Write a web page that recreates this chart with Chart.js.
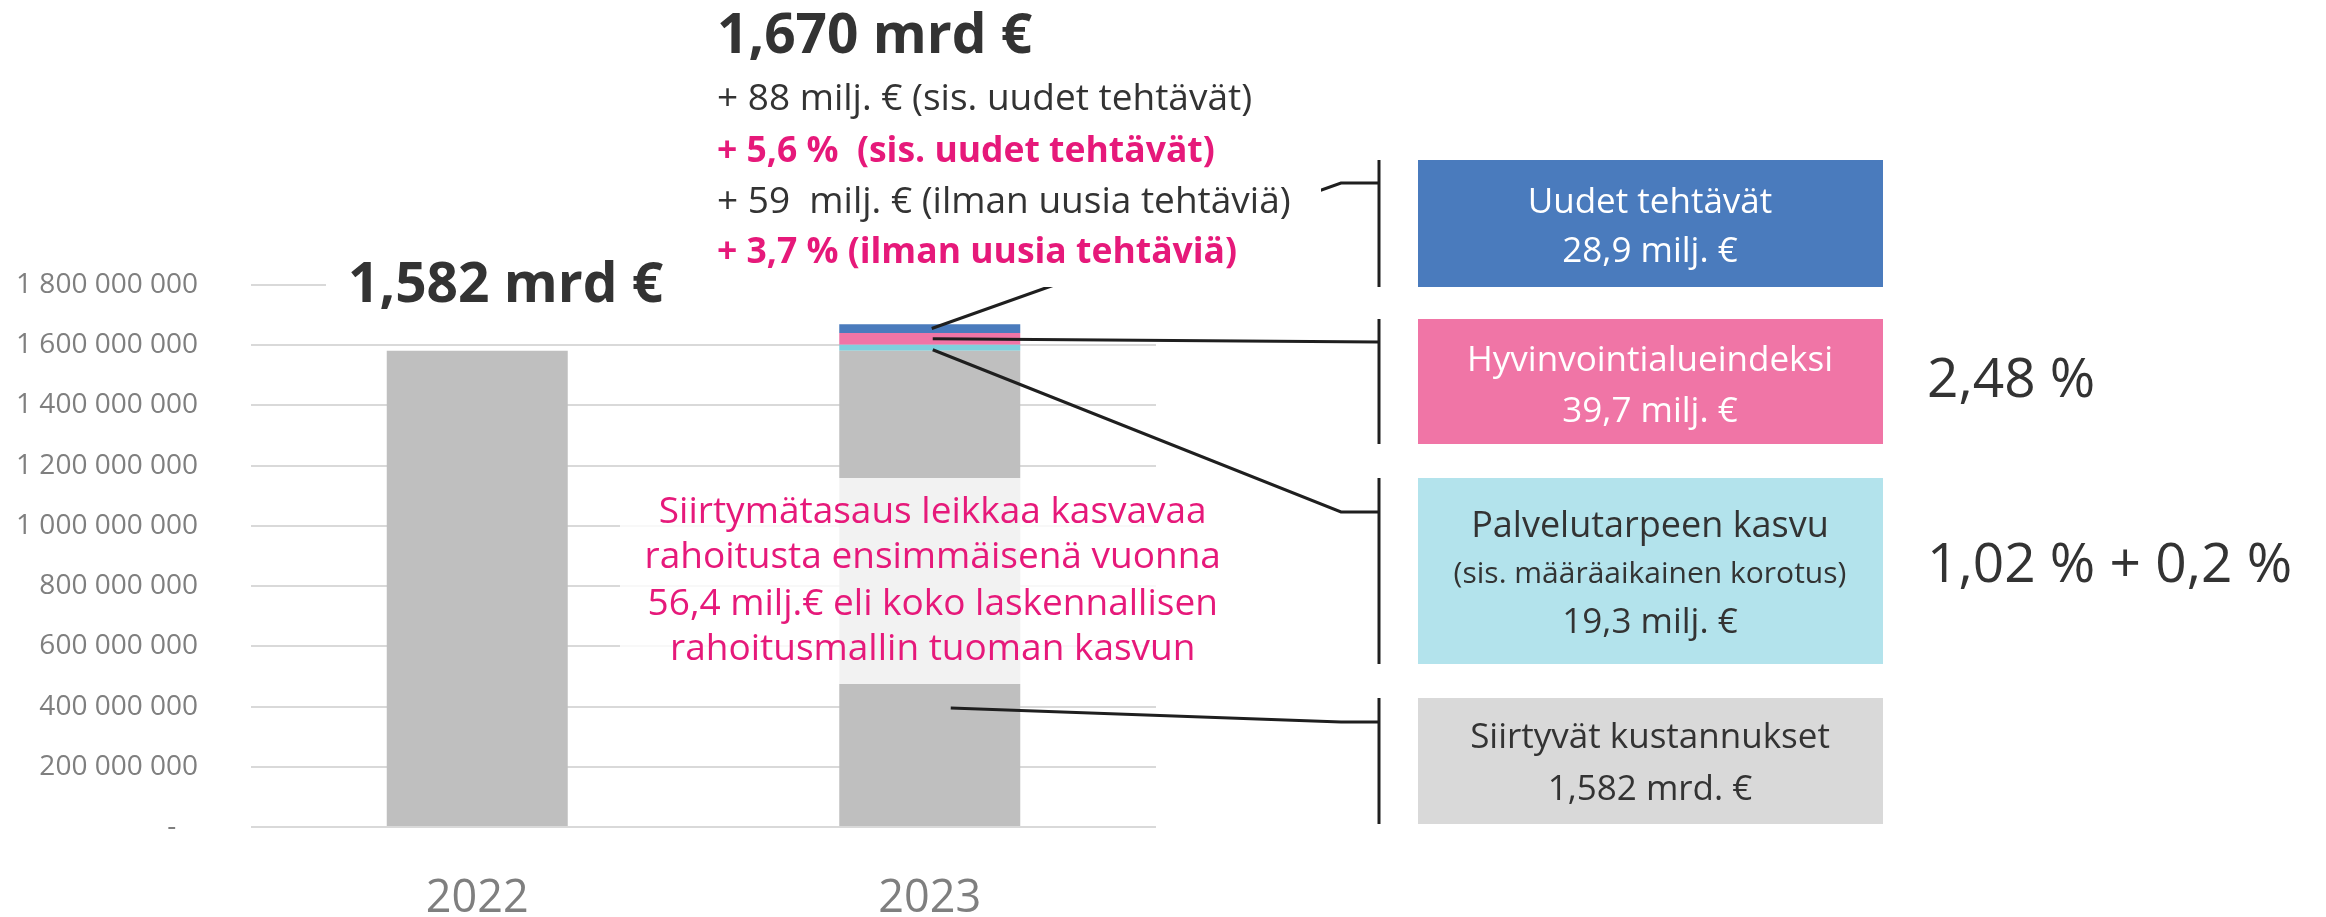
<!DOCTYPE html>
<html lang="fi">
<head>
<meta charset="utf-8">
<title>Rahoitus 2022–2023</title>
<script src="https://cdn.jsdelivr.net/npm/chart.js@4/dist/chart.umd.min.js"></script>
<style>
    html, body { margin: 0; padding: 0; background: #fff; }
    canvas { display: block; }
</style>
</head>
<body>
<canvas id="rahoitusChart" width="2326" height="917"></canvas>
<script>
// Vuodet ja pinottujen pylväiden osat (euroa)
const vuodet = ['2022', '2023'];
const siirtyvat = [1582000000, 1582000000];
const palvelutarve = [null, 19300000];
const indeksi = [null, 39700000];
const uudet = [null, 28900000];

const yMax = 1800000000;
const yStep = 200000000;

const harmaa = '#bfbfbf';
const syaani = '#7fd0dd';
const pinkki = '#f075a6';
const sininen = '#4a7bbd';
const teksti = '#333333';
const korostus = '#e6197a';

Chart.defaults.font.family = "'Open Sans', sans-serif";

function muotoile(v) {
    if (v === 0) return '-   ';
    return String(v).replace(/\B(?=(\d{3})+(?!\d))/g, ' ');
}

function viiva(ctx, pisteet) {
    ctx.beginPath();
    ctx.moveTo(pisteet[0][0], pisteet[0][1]);
    for (let i = 1; i < pisteet.length; i++) ctx.lineTo(pisteet[i][0], pisteet[i][1]);
    ctx.stroke();
}

function kirjoita(ctx, txt, x, y, font, color, align) {
    ctx.font = font;
    ctx.fillStyle = color;
    ctx.textAlign = align || 'left';
    ctx.textBaseline = 'alphabetic';
    ctx.fillText(txt, x, y);
}

const merkinnat = {
    id: 'merkinnat',
    afterDatasetsDraw(chart) {
        const ctx = chart.ctx;
        const xs = chart.scales.x;
        const ys = chart.scales.y;
        const bx = xs.getPixelForValue(1);
        ctx.save();

        // läpikuultava tekstilaatikko 2023-pylvään päällä
        ctx.fillStyle = 'rgba(255,255,255,0.8)';
        ctx.fillRect(620, 478, 625, 206);
        const f1 = "37px 'Open Sans'";
        kirjoita(ctx, 'Siirtymätasaus leikkaa kasvavaa', bx + 3, 523, f1, korostus, 'center');
        kirjoita(ctx, 'rahoitusta ensimmäisenä vuonna', bx + 3, 568, f1, korostus, 'center');
        kirjoita(ctx, '56,4 milj.€ eli koko laskennallisen', bx + 3, 615, f1, korostus, 'center');
        kirjoita(ctx, 'rahoitusmallin tuoman kasvun', bx + 3, 660, f1, korostus, 'center');

        // viittausviivat pylväästä laatikoihin
        const s = siirtyvat[1], p = palvelutarve[1], h = indeksi[1], u = uudet[1];
        const sulkuX = 1379;
        const taiteX = 1341;
        ctx.strokeStyle = '#1f1f1f';
        ctx.lineWidth = 3;
        viiva(ctx, [[bx + 2, ys.getPixelForValue(s + p + h + u / 2)], [taiteX, 183], [sulkuX, 183]]);
        viiva(ctx, [[bx + 3, ys.getPixelForValue(s + p + h / 2)], [sulkuX, 342]]);
        viiva(ctx, [[bx + 3, ys.getPixelForValue(s + p / 2) + 2], [taiteX, 512], [sulkuX, 512]]);
        viiva(ctx, [[bx + 21, ys.getPixelForValue(s / 4)], [taiteX, 722], [sulkuX, 722]]);

        // valkoinen tausta yläotsikoille
        ctx.fillStyle = '#ffffff';
        ctx.fillRect(326, 0, 995, 287);

        kirjoita(ctx, '1,582 mrd €', 348, 302, "bold 55px 'Open Sans'", teksti);
        kirjoita(ctx, '1,670 mrd €', 717, 53, "bold 55px 'Open Sans'", teksti);
        kirjoita(ctx, '+ 88 milj. € (sis. uudet tehtävät)', 717, 110, "37px 'Open Sans'", teksti);
        kirjoita(ctx, '+ 5,6 %  (sis. uudet tehtävät)', 717, 162, "bold 35.5px 'Open Sans'", korostus);
        kirjoita(ctx, '+ 59  milj. € (ilman uusia tehtäviä)', 717, 213, "37px 'Open Sans'", teksti);
        kirjoita(ctx, '+ 3,7 % (ilman uusia tehtäviä)', 717, 263, "bold 35.5px 'Open Sans'", korostus);

        // selitelaatikot oikealla
        const laatikot = [
            { y0: 160, y1: 287, fill: sininen, color: '#ffffff',
              rivit: [['Uudet tehtävät', 213, 35], ['28,9 milj. €', 262, 35]] },
            { y0: 319, y1: 444, fill: pinkki, color: '#ffffff',
              rivit: [['Hyvinvointialueindeksi', 371, 35], ['39,7 milj. €', 422, 35]] },
            { y0: 478, y1: 664, fill: '#b3e3ec', color: teksti,
              rivit: [['Palvelutarpeen kasvu', 537, 36], ['(sis. määräaikainen korotus)', 583, 30], ['19,3 milj. €', 633, 35]] },
            { y0: 698, y1: 824, fill: '#d9d9d9', color: teksti,
              rivit: [['Siirtyvät kustannukset', 748, 35], ['1,582 mrd. €', 800, 35]] }
        ];
        laatikot.forEach(function(l) {
            ctx.fillStyle = l.fill;
            ctx.fillRect(1418, l.y0, 465, l.y1 - l.y0);
            viiva(ctx, [[sulkuX, l.y0], [sulkuX, l.y1]]);
            l.rivit.forEach(function(r) {
                kirjoita(ctx, r[0], 1650, r[1], r[2] + "px 'Open Sans'", l.color, 'center');
            });
        });

        kirjoita(ctx, '2,48 %', 1927, 397, "55px 'Open Sans'", teksti);
        kirjoita(ctx, '1,02 % + 0,2 %', 1927, 582, "55px 'Open Sans'", teksti);

        ctx.restore();
    }
};

const ctx = document.getElementById('rahoitusChart').getContext('2d');

new Chart(ctx, {
    type: 'bar',
    data: {
        labels: vuodet,
        datasets: [
            { label: 'Siirtyvät kustannukset', data: siirtyvat, backgroundColor: harmaa },
            { label: 'Palvelutarpeen kasvu', data: palvelutarve, backgroundColor: syaani },
            { label: 'Hyvinvointialueindeksi', data: indeksi, backgroundColor: pinkki },
            { label: 'Uudet tehtävät', data: uudet, backgroundColor: sininen }
        ]
    },
    options: {
        responsive: false,
        animation: false,
        barPercentage: 0.4,
        categoryPercentage: 1.0,
        layout: { padding: { left: 0, top: 285, right: 2326 - 1156, bottom: 0 } },
        plugins: {
            legend: { display: false },
            tooltip: { enabled: false }
        },
        scales: {
            x: {
                stacked: true,
                grid: { display: false },
                border: { display: false },
                ticks: { color: '#7f7f7f', font: { size: 45 }, padding: 37 },
                afterFit: function(s) { s.height = 90; }
            },
            y: {
                stacked: true,
                min: 0,
                max: yMax,
                grid: { color: '#d9d9d9', lineWidth: 2, drawTicks: false },
                border: { display: false },
                ticks: {
                    stepSize: yStep,
                    color: '#7f7f7f',
                    font: { size: 28 },
                    padding: 53,
                    callback: function(v) { return muotoile(v); }
                },
                afterFit: function(s) { s.width = 251; }
            }
        }
    },
    plugins: [merkinnat]
});
</script>
</body>
</html>
